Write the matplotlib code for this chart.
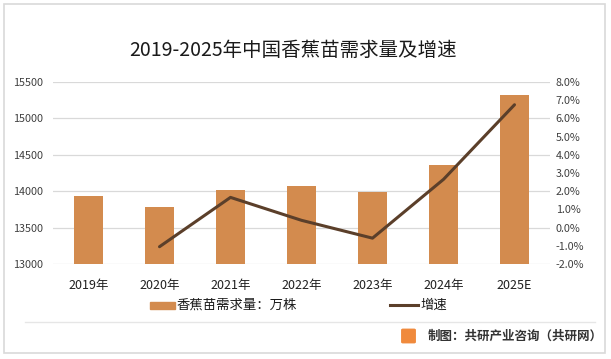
import matplotlib.pyplot as plt
from matplotlib.patches import Rectangle, FancyBboxPatch
from matplotlib.lines import Line2D

plt.rcParams['font.family'] = ['Noto Sans CJK SC', 'DejaVu Sans']

# data
years = ["2019年", "2020年", "2021年", "2022年", "2023年", "2024年", "2025E"]
demand = [13930, 13785, 14015, 14070, 13990, 14357, 15320]   # 万株
growth = [None, -1.05, 1.66, 0.40, -0.58, 2.65, 6.75]        # %

bar_color = "#d38b4e"
line_color = "#5b3f2a"

fig = plt.figure(figsize=(6.11, 3.59), dpi=100)

# outer frame and footer separator
fig.patches.append(Rectangle((4/611, 6/359), 601/611, 349/359, transform=fig.transFigure,
                             fill=False, edgecolor="#d9d9d9", linewidth=1.2))
fig.add_artist(Line2D([25/611, 595/611], [1-322/359, 1-322/359], transform=fig.transFigure,
                      color="#e6e6e6", linewidth=1))

ax = fig.add_axes([53/611, 1-264/359, 497/611, 182/359])
x = list(range(len(years)))
ax.bar(x, demand, width=0.4, color=bar_color, zorder=2)
ax.set_xlim(-0.5, len(years)-0.5)
ax.set_ylim(13000, 15500)
ax.set_yticks(range(13000, 15501, 500))
ax.grid(axis="y", color="#d9d9d9", linewidth=0.9, zorder=0)
ax.set_axisbelow(True)
for s in ax.spines.values():
    s.set_visible(False)
ax.tick_params(axis="both", length=0, labelsize=7.8, colors="#404040")
ax.tick_params(axis="y", pad=7)
ax.set_xticks(x)
ax.set_xticklabels(years, fontsize=9, color="#202020")
ax.tick_params(axis="x", pad=11)

ax2 = ax.twinx()
gx = [i for i, g in zip(x, growth) if g is not None]
gy = [g for g in growth if g is not None]
ax2.plot(gx, gy, color=line_color, linewidth=2.2, solid_capstyle="round", zorder=3)
ax2.set_ylim(-2, 8)
ax2.set_yticks(range(-2, 9))
ax2.set_yticklabels([f"{v:.1f}%" for v in range(-2, 9)])
for s in ax2.spines.values():
    s.set_visible(False)
ax2.tick_params(axis="y", length=0, labelsize=7.8, colors="#404040", pad=4)

fig.text(293/611, 1-50/359, "2019-2025年中国香蕉苗需求量及增速", ha="center", va="center",
         fontsize=14, color="#1a1a1a")

# legend
fig.patches.append(Rectangle((150/611, 1-309/359), 25/611, 7/359, transform=fig.transFigure,
                             color=bar_color))
fig.text(177/611, 1-305/359, "香蕉苗需求量：万株", va="center", fontsize=9.6, color="#1a1a1a")
fig.add_artist(Line2D([390/611, 418/611], [1-305/359, 1-305/359], transform=fig.transFigure,
                      color=line_color, linewidth=2.2))
fig.text(420/611, 1-305/359, "增速", va="center", fontsize=9.6, color="#1a1a1a")

# footer
fig.patches.append(FancyBboxPatch((403/611, 1-342/359), 11/611, 12/359, transform=fig.transFigure,
                                  boxstyle="round,pad=0.002", color="#f08a3c"))
fig.text(428/611, 1-336/359, "制图：共研产业咨询（共研网）", va="center", fontsize=9,
         color="#333333", fontweight="semibold")

fig.savefig("out.png", dpi=100)
